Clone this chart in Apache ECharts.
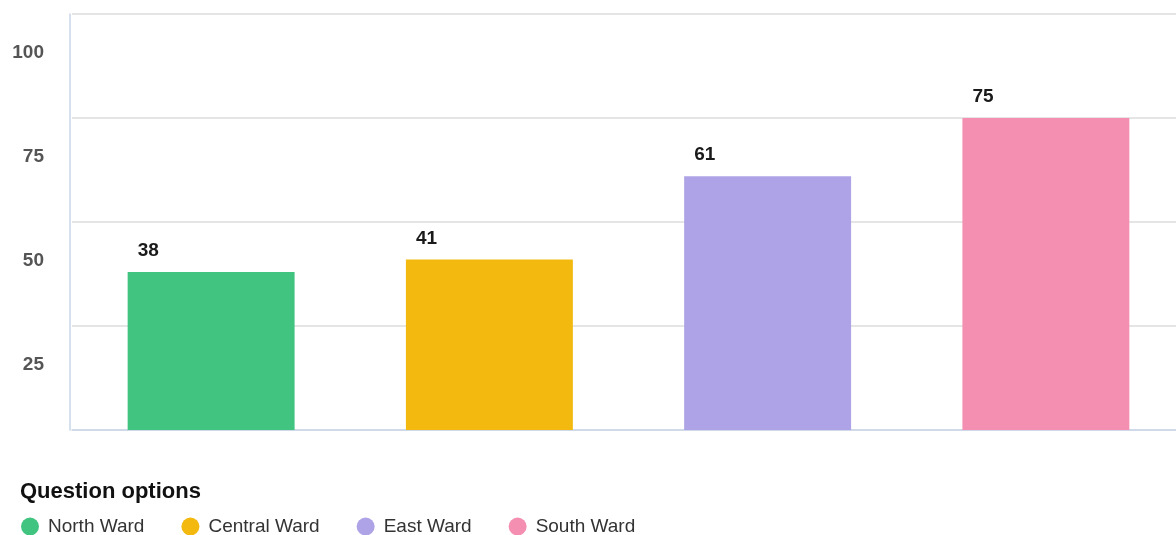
<!DOCTYPE html>
<html>
<head>
<meta charset="utf-8">
<script src="https://cdn.jsdelivr.net/npm/echarts@6/dist/echarts.min.js"></script>
<style>
  html, body { margin: 0; padding: 0; background: #fff; }
  #chart { width: 1176px; height: 535px; }
</style>
</head>
<body>
<div id="chart"></div>
<script>
const categories = ['North Ward', 'Central Ward', 'East Ward', 'South Ward']
const values = [38, 41, 61, 75]
const colors = ['#40c480', '#f3b90f', '#ada3e6', '#f48fb1']
const yTicks = [0, 25, 50, 75, 100]

const chart = echarts.init(document.getElementById('chart'))

// one series per ward so the legend lists each one
const seriesArr = categories.map((name, i) => ({
  type: 'bar',
  name: name,
  stack: 'all',
  barWidth: '60%',
  itemStyle: { color: colors[i] },
  data: values.map((v, j) => (j === i ? v : '-')),
  label: {
    show: true,
    position: [10, -21],
    align: 'left',
    verticalAlign: 'middle',
    color: '#1a1a1a',
    fontSize: 19,
    fontWeight: 'bold',
    fontFamily: 'Liberation Sans'
  }
}))

chart.setOption({
  animation: false,
  textStyle: { fontFamily: 'Liberation Sans' },
  title: {
    text: 'Question options',
    left: 20,
    top: 481,
    padding: 0,
    textStyle: { fontSize: 22, fontWeight: 'bold', color: '#111' }
  },
  legend: {
    left: 21,
    top: 517,
    padding: 0,
    icon: 'circle',
    itemWidth: 18,
    itemHeight: 18,
    itemGap: 37,
    textStyle: { fontSize: 19, color: '#333', padding: [0, 0, 0, 4] },
    data: categories
  },
  // plot runs past the right edge of the window, as in the source
  grid: { left: 72, width: 1113, top: 14, bottom: 105, outerBoundsMode: 'none' },
  xAxis: {
    type: 'category',
    data: categories,
    axisLine: { lineStyle: { color: '#c9d5e8', width: 1.5 } },
    axisTick: { show: false },
    axisLabel: { show: false }
  },
  yAxis: {
    type: 'value',
    offset: 2,
    min: yTicks[0],
    max: yTicks[yTicks.length - 1],
    interval: 25,
    axisLine: { show: true, lineStyle: { color: '#c9d5e8', width: 1.5 } },
    axisTick: { show: false },
    splitLine: { lineStyle: { color: '#dddddd', width: 1.5 } },
    axisLabel: {
      showMinLabel: false,
      margin: 26,
      verticalAlign: 'top',
      padding: [29, 0, 0, 0],
      color: '#555',
      fontSize: 19,
      fontWeight: 'bold'
    }
  },
  series: seriesArr
})
</script>
</body>
</html>
